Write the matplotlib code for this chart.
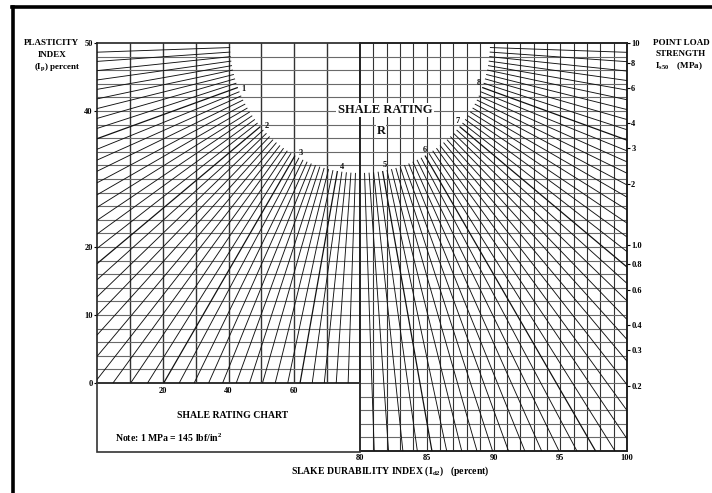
import numpy as np
import matplotlib
matplotlib.use('Agg')
import matplotlib.pyplot as plt
from matplotlib.collections import LineCollection
from matplotlib.patches import Rectangle
from matplotlib.lines import Line2D

plt.rcParams['font.family'] = 'Liberation Serif'
plt.rcParams['font.weight'] = 'bold'
plt.rcParams['mathtext.fontset'] = 'custom'
plt.rcParams['mathtext.rm'] = 'Liberation Serif:bold'
plt.rcParams['mathtext.it'] = 'Liberation Serif:bold'
plt.rcParams['mathtext.bf'] = 'Liberation Serif:bold'
plt.rcParams['mathtext.default'] = 'rm'

# axis scales
slake_low_ticks = [20, 40, 60]
slake_high_ticks = [80, 85, 90, 95, 100]
plasticity_ticks = [0, 10, 20, 40, 50]
point_load_ticks = [0.2, 0.3, 0.4, 0.6, 0.8, 1.0, 2, 3, 4, 6, 8, 10]
point_load_labels = ['0.2', '0.3', '0.4', '0.6', '0.8', '1.0', '2', '3', '4', '6', '8', '10']

# shale rating fan: R = 0 lies along the top of the left chart, R = 9 along the top of the right one
rating_labels = [1, 2, 3, 4, 5, 6, 7, 8]
rating_lines = np.round(np.arange(0.1, 9.0, 0.1), 1)
DEG_PER_RATING = 20.0

W, H = 712, 493
LEFT = (97, 43, 360, 383)      # x0, top, x1, bottom in pixels
RIGHT = (360, 43, 627, 451)
INNER_R = 130                  # rays start on this arc round the shared corner

GRID_DARK = '#333333'
GRID_LIGHT = '#6a6a6a'
INK = '#111111'


def box(x0, y0, x1, y1):
    return [x0 / W, 1 - y1 / H, (x1 - x0) / W, (y1 - y0) / H]


fig = plt.figure(figsize=(W / 100, H / 100), dpi=100)

# left chart: slake durability < 80 against plasticity index
ax_l = fig.add_axes(box(*LEFT))
ax_l.set_xlim(0, 80)
ax_l.set_ylim(0, 50)
ax_l.vlines(np.arange(10, 80, 10), 0, 50, color=GRID_DARK, lw=1.0)
ax_l.hlines(np.arange(2, 50, 2), 0, 80, color=GRID_LIGHT, lw=0.8)
ax_l.set_xticks(slake_low_ticks)
ax_l.set_yticks(plasticity_ticks)
ax_l.tick_params(axis='x', length=0, pad=3, labelsize=6)
ax_l.tick_params(axis='y', length=2, width=0.8, pad=1, labelsize=6)

# right chart: slake durability > 80 against point load strength
ax_r = fig.add_axes(box(*RIGHT))
ax_r.set_xlim(80, 100)
ax_r.set_ylim(-10, 50)
ax_r.vlines(np.arange(81, 100, 1), -10, 50, color=GRID_DARK, lw=0.8)
ax_r.hlines(np.arange(-8, 50, 2), 80, 100, color=GRID_LIGHT, lw=0.8)
ax_r.set_xticks(slake_high_ticks)
ax_r.set_yticks([])
ax_r.tick_params(axis='x', length=0, pad=2, labelsize=6)

ax_is = ax_r.twinx()
ax_is.set_yscale('log')
ax_is.set_ylim(0.095, 10)
ax_is.set_yticks(point_load_ticks)
ax_is.set_yticklabels(point_load_labels)
ax_is.yaxis.set_minor_locator(matplotlib.ticker.NullLocator())
ax_is.tick_params(axis='y', length=2, width=0.8, pad=1, labelsize=6)

for ax in (ax_l, ax_r, ax_is):
    for s in ax.spines.values():
        s.set_linewidth(1.2)
        s.set_color('#222222')

# rating fan, in pixel units measured from the shared top corner
ax_f = fig.add_axes(box(LEFT[0], LEFT[1], RIGHT[2], RIGHT[3]))
ax_f.set_xlim(LEFT[0] - LEFT[2], RIGHT[2] - RIGHT[0])
ax_f.set_ylim(LEFT[1] - RIGHT[3], 0)
ax_f.axis('off')
ax_f.set_zorder(5)

segs, widths = [], []
for r in rating_lines:
    if abs(r - 4.5) < 1e-6:
        continue
    th = np.radians(DEG_PER_RATING * r)
    a, b = -np.cos(th), -np.sin(th)
    if r < 4.5:
        # runs out through the left or bottom edge of the left chart
        t = min((LEFT[0] - LEFT[2]) / a, (LEFT[1] - LEFT[3]) / b)
    else:
        # runs out through the right or bottom edge of the right chart
        t = min((RIGHT[2] - RIGHT[0]) / a, (RIGHT[1] - RIGHT[3]) / b)
    segs.append([(INNER_R * a, INNER_R * b), (t * a, t * b)])
    widths.append(0.9 if abs(r - round(r)) < 1e-6 else 0.65)

ax_f.add_collection(LineCollection(segs, colors=INK, linewidths=widths))

for r in rating_labels:
    th = np.radians(DEG_PER_RATING * r + 1.5)
    ax_f.text(-125 * np.cos(th), -125 * np.sin(th), str(r), fontsize=6,
              ha='center', va='center', color=INK)

ax_f.text(25, -67, 'SHALE RATING', fontsize=9, ha='center', va='center', color=INK,
          bbox=dict(facecolor='white', edgecolor='none', pad=1))
ax_f.text(21, -88, 'R', fontsize=9, ha='center', va='center', color=INK,
          bbox=dict(facecolor='white', edgecolor='none', pad=0.5))

# note box under the left chart
fig.add_artist(Rectangle((LEFT[0] / W, 1 - 452 / H), (LEFT[2] - LEFT[0]) / W, (452 - LEFT[3]) / H,
                         transform=fig.transFigure, fill=False, lw=1.2, edgecolor='#333333'))
fig.text(233 / W, 1 - 415 / H, 'SHALE RATING CHART', fontsize=7, ha='center', va='center')
fig.text(115 / W, 1 - 438 / H, 'Note: 1 MPa = 145 lbf/in$^2$', fontsize=7, ha='left', va='center')

# axis titles
fig.text(51 / W, 1 - 43 / H, 'PLASTICITY', fontsize=6.5, ha='center', va='center')
fig.text(52 / W, 1 - 55 / H, 'INDEX', fontsize=6.5, ha='center', va='center')
fig.text(57 / W, 1 - 67 / H, '(I$_p$) percent', fontsize=6.5, ha='center', va='center')
fig.text(681 / W, 1 - 43 / H, 'POINT LOAD', fontsize=6.5, ha='center', va='center')
fig.text(681 / W, 1 - 54 / H, 'STRENGTH', fontsize=6.5, ha='center', va='center')
fig.text(679 / W, 1 - 66 / H, 'I$_{s50}$    (MPa)', fontsize=6.5, ha='center', va='center')
fig.text(390 / W, 1 - 471 / H, 'SLAKE DURABILITY INDEX (I$_{d2}$)   (percent)', fontsize=7,
         ha='center', va='center')

# page frame
fig.add_artist(Line2D([13 / W, 13 / W], [0, 1 - 7 / H], color='black', lw=2.6,
                      transform=fig.transFigure))
fig.add_artist(Line2D([12 / W, 1], [1 - 7 / H, 1 - 7 / H], color='black', lw=2.6,
                      transform=fig.transFigure))

fig.savefig('out.png', dpi=100)
